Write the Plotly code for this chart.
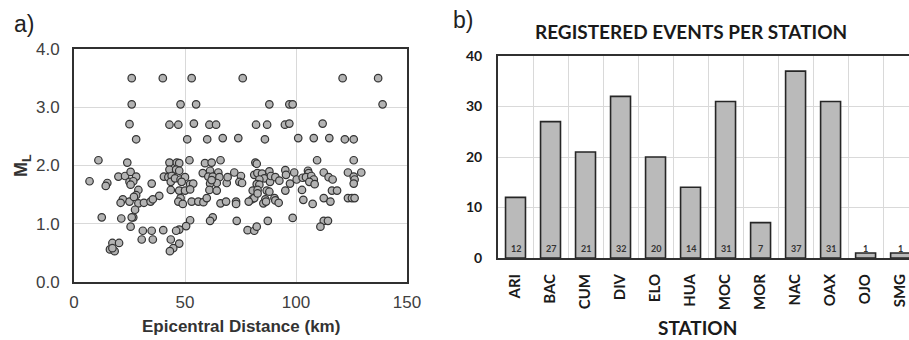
import plotly.graph_objects as go

# ---------------- data: panel a) epicentral distance (km) vs ML ----------------
dist_km = [
    26, 40, 53, 76, 121, 137,
    26, 48, 55, 88, 97, 98.5, 139,
    25, 43, 47, 54, 61, 64, 82, 87, 95, 97, 112,
    28, 51, 60, 67, 74, 86, 101, 108, 115, 122, 126,
    11, 24, 52, 109.5, 126, 66,
    7, 15, 14.3, 20, 23, 25.5, 28, 25, 26.7, 25.5, 35, 29, 28, 22, 21, 25, 27, 29, 31.5, 34.5,
    27.5, 26.7, 12.5, 21.3, 26, 25.5, 31, 35, 30.5, 35.5, 17.3, 20.3, 16.2, 18.3, 17.3,
    43, 46.3, 47.4, 43, 46, 47.4, 40.5, 42.5, 44, 43.6, 45.5, 48, 50, 48.5, 52.3, 53.7,
    43.6, 47.4, 50, 52.3, 38.4, 35.5, 48, 47, 49, 53, 56, 58.3, 59.8,
    58, 59, 62, 61.3, 65, 60.5, 62.5, 65.5, 64.3, 68.8, 61.3, 61, 64.3, 62,
    66, 68.5, 62.5, 61.3, 52.3, 50.5, 47.4, 46, 40.2, 43.6, 47.4, 44.7, 43.2,
    81.7, 82.3, 72.2, 75.2, 74.5, 75.7, 69.2,
    81.2, 82.6, 84.7, 88, 85.7, 83.5, 82.3, 83.5, 88.3, 88.7, 90.7, 92.5, 95.2, 95.5, 99.2, 97.3, 100.3, 103, 95.2, 102.7,
    80.5, 82.7, 80.2, 81.2, 78.7, 82.7, 86.8, 88, 86.2, 85.3, 86.5, 90.3, 90.7, 92.2, 73, 73,
    103.3, 73.3, 87.3, 98.5, 78.2, 81.2, 82.3,
    105.4, 105.7, 104.5, 106.9, 108, 106, 108.4, 112.5, 114.7, 116.5,
    123.4, 126, 129.4, 126.4, 126, 116.2, 118.5, 112.5, 115.5, 107.5,
    123.4, 125.2, 126.4, 112.5, 114.4, 111,
]
magnitude_ml = [
    3.5, 3.5, 3.5, 3.5, 3.5, 3.5,
    3.05, 3.05, 3.05, 3.05, 3.05, 3.05, 3.05,
    2.71, 2.7, 2.7, 2.72, 2.7, 2.7, 2.7, 2.7, 2.7, 2.72, 2.72,
    2.45, 2.45, 2.45, 2.47, 2.47, 2.45, 2.47, 2.47, 2.47, 2.45, 2.45,
    2.09, 2.05, 2.09, 2.09, 2.09, 2.09,
    1.73, 1.70, 1.65, 1.81, 1.82, 1.89, 1.81, 1.72, 1.73, 1.67, 1.69, 1.58, 1.49, 1.42, 1.36, 1.38, 1.46, 1.35, 1.36, 1.38,
    1.24, 1.11, 1.11, 1.09, 1.11, 0.95, 0.88, 0.88, 0.73, 0.73, 0.67, 0.67, 0.56, 0.53, 0.58,
    2.05, 2.05, 2.04, 1.93, 1.93, 1.91, 1.81, 1.80, 1.82, 1.72, 1.78, 1.76, 1.80, 1.72, 1.68, 1.69,
    1.58, 1.57, 1.57, 1.59, 1.48, 1.42, 1.44, 1.38, 1.34, 1.38, 1.38, 1.37, 1.44,
    1.87, 2.04, 2.05, 1.91, 1.88, 1.81, 1.81, 1.80, 1.70, 1.70, 1.69, 1.58, 1.57, 1.75,
    1.35, 1.38, 1.11, 1.05, 1.06, 0.96, 0.90, 0.88, 0.89, 0.73, 0.66, 0.58, 0.53,
    2.05, 2.03, 1.88, 1.82, 1.72, 1.70, 1.80,
    1.84, 1.87, 1.86, 1.90, 1.78, 1.76, 1.68, 1.67, 1.72, 1.82, 1.80, 1.74, 1.92, 1.84, 1.88, 1.69, 1.76, 1.79, 1.57, 1.58,
    1.57, 1.58, 1.42, 1.44, 1.38, 1.52, 1.57, 1.55, 1.42, 1.35, 1.38, 1.44, 1.40, 1.36, 1.38, 1.34,
    1.41, 1.05, 1.05, 1.10, 0.89, 0.88, 0.95,
    1.91, 1.87, 1.80, 1.82, 1.76, 1.72, 1.68, 1.88, 1.80, 1.76,
    1.88, 1.81, 1.88, 1.76, 1.69, 1.57, 1.57, 1.44, 1.38, 1.34,
    1.44, 1.44, 1.44, 1.05, 1.05, 0.95,
]

# ---------------- data: panel b) registered events per station ----------------
stations = ["ARI", "BAC", "CUM", "DIV", "ELO", "HUA", "MOC", "MOR", "NAC", "OAX", "OJO", "SMG"]
events = [12, 27, 21, 32, 20, 14, 31, 7, 37, 31, 1, 1]
count_ticks = [0, 10, 20, 30, 40]

W, H = 909, 340
DARK = "#303030"
GRID = "#d9d9d9"
ARIAL = "Liberation Sans, Arial, sans-serif"
CAL = "Lato, Carlito, Calibri, sans-serif"

fig = go.Figure()

fig.add_trace(go.Scatter(
    x=dist_km, y=magnitude_ml, mode="markers",
    marker=dict(size=7.5, color="#b3b3b3", line=dict(color="#333333", width=1.2)),
    xaxis="x", yaxis="y", showlegend=False, hoverinfo="x+y",
))

fig.add_trace(go.Bar(
    x=stations, y=events, width=0.57,
    marker=dict(color="#bababa", line=dict(color="#262626", width=1.6)),
    xaxis="x2", yaxis="y2", showlegend=False,
))

annotations = []
for s, v in zip(stations, events):
    annotations.append(dict(
        x=s, y=0, xref="x2", yref="y2", text="<b>%d</b>" % v, showarrow=False,
        yanchor="bottom", yshift=2, font=dict(family=CAL, size=9, color="#333333"),
    ))

annotations += [
    dict(x=12 / W, y=1 - 24 / H, xref="paper", yref="paper", text="a)", showarrow=False,
         xanchor="left", yanchor="middle", font=dict(family=ARIAL, size=23, color="#222222")),
    dict(x=451 / W, y=1 - 20 / H, xref="paper", yref="paper", text="b)", showarrow=False,
         xanchor="left", yanchor="middle", font=dict(family=ARIAL, size=23, color="#222222")),
    dict(x=691 / W, y=1 - 31 / H, xref="paper", yref="paper", text="<b>REGISTERED EVENTS PER STATION</b>",
         showarrow=False, xanchor="center", yanchor="middle",
         font=dict(family=CAL, size=19, color="#1a1a1a")),
    dict(x=697 / W, y=1 - 327 / H, xref="paper", yref="paper", text="<b>STATION</b>",
         showarrow=False, xanchor="center", yanchor="middle",
         font=dict(family=CAL, size=19, color="#1a1a1a")),
    dict(x=241 / W, y=1 - 326 / H, xref="paper", yref="paper", text="<b>Epicentral Distance (km)</b>",
         showarrow=False, xanchor="center", yanchor="middle",
         font=dict(family=ARIAL, size=17, color="#333333")),
    dict(x=22 / W, y=1 - 166 / H, xref="paper", yref="paper", text="<b>M<sub>L</sub></b>",
         showarrow=False, xanchor="center", yanchor="middle", textangle=-90,
         font=dict(family=ARIAL, size=18, color="#333333")),
]

fig.update_layout(
    template="none",
    width=W, height=H,
    margin=dict(l=0, r=0, t=0, b=0, pad=0),
    paper_bgcolor="white", plot_bgcolor="white",
    annotations=annotations,
    xaxis=dict(
        domain=[74 / W, 407 / W], range=[0, 150], dtick=50, tick0=0, automargin=False,
        showgrid=True, gridcolor=GRID, gridwidth=1, zeroline=False,
        showline=True, mirror=True, linecolor=DARK, linewidth=2,
        ticks="", ticklabelstandoff=4,
        tickfont=dict(family=ARIAL, size=17, color="#404040"),
    ),
    yaxis=dict(
        domain=[(H - 282) / H, (H - 49) / H], range=[0, 4], dtick=1, tick0=0, automargin=False,
        tickformat=".1f",
        showgrid=True, gridcolor=GRID, gridwidth=1, zeroline=False,
        showline=True, mirror=True, linecolor=DARK, linewidth=2,
        ticks="", ticklabelstandoff=9,
        tickfont=dict(family=ARIAL, size=17, color="#404040"),
    ),
    xaxis2=dict(
        domain=[498 / W, 1.0], range=[-0.5, 11.24], type="category", automargin=False,
        tickmode="array", tickvals=stations, ticktext=["<b>%s</b>" % s for s in stations],
        showgrid=True, gridcolor=GRID, gridwidth=1, tickson="boundaries",
        showline=True, mirror=True, linecolor=DARK, linewidth=2,
        ticks="", tickangle=-90, ticklabelstandoff=8,
        tickfont=dict(family=CAL, size=15, color="#1a1a1a"),
        anchor="y2",
    ),
    yaxis2=dict(
        domain=[(H - 258) / H, (H - 56) / H], range=[0, 40], automargin=False,
        tickmode="array", tickvals=count_ticks, ticktext=["<b>%d</b>" % t for t in count_ticks],
        showgrid=True, gridcolor=GRID, gridwidth=1, zeroline=False,
        showline=True, mirror=False, linecolor=DARK, linewidth=2,
        ticks="", ticklabelstandoff=11,
        tickfont=dict(family=CAL, size=14, color="#1a1a1a"),
        anchor="x2",
    ),
)

fig.write_html("out.html")
